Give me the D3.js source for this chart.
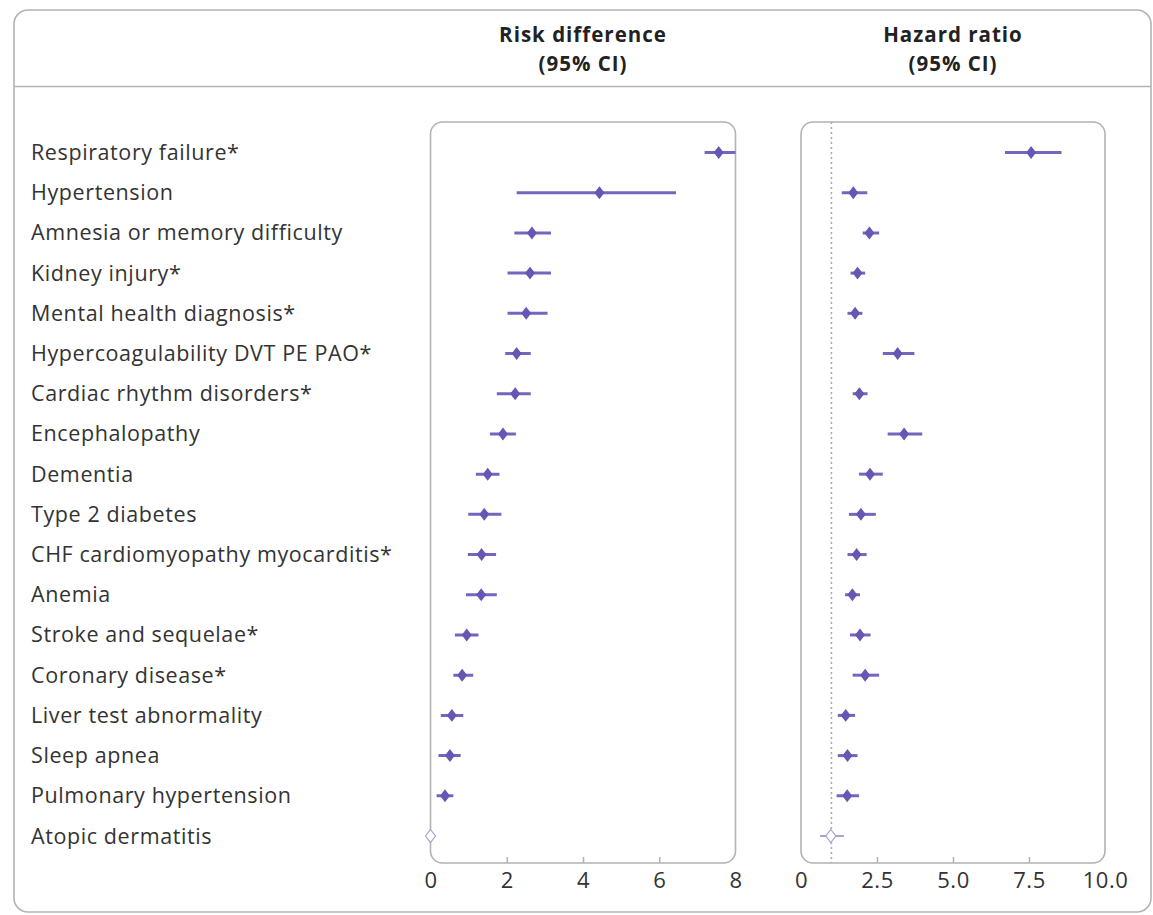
<!DOCTYPE html>
<html><head><meta charset="utf-8">
<script src="https://cdn.jsdelivr.net/npm/d3@7"></script>
<style>
body{margin:0;background:#fff;}
svg{display:block;font-family:"Open Sans",sans-serif;}
</style></head>
<body><svg id="c" width="1153" height="915"></svg>
<script>
const categories = ["Respiratory failure*","Hypertension","Amnesia or memory difficulty","Kidney injury*","Mental health diagnosis*","Hypercoagulability DVT PE PAO*","Cardiac rhythm disorders*","Encephalopathy","Dementia","Type 2 diabetes","CHF cardiomyopathy myocarditis*","Anemia","Stroke and sequelae*","Coronary disease*","Liver test abnormality","Sleep apnea","Pulmonary hypertension","Atopic dermatitis"];
const rdEst   = [7.56,4.43,2.66,2.61,2.51,2.26,2.22,1.90,1.50,1.41,1.34,1.33,0.95,0.83,0.56,0.51,0.38,0.00];
const rdLow   = [7.19,2.26,2.20,2.02,2.02,1.96,1.74,1.56,1.19,0.99,0.98,0.93,0.64,0.60,0.27,0.21,0.16,-0.02];
const rdHigh  = [8.30,6.44,3.16,3.16,3.07,2.63,2.63,2.24,1.81,1.86,1.72,1.74,1.26,1.12,0.86,0.79,0.60,0.02];
const hrEst   = [7.57,1.72,2.25,1.86,1.78,3.18,1.92,3.39,2.27,1.97,1.83,1.69,1.94,2.11,1.47,1.53,1.52,0.98];
const hrLow   = [6.71,1.34,2.03,1.63,1.53,2.69,1.70,2.85,1.91,1.58,1.53,1.45,1.61,1.70,1.21,1.21,1.17,0.63];
const hrHigh  = [8.57,2.18,2.57,2.11,2.02,3.73,2.19,3.99,2.69,2.46,2.16,1.94,2.29,2.57,1.78,1.86,1.91,1.41];
const significant = [true,true,true,true,true,true,true,true,true,true,true,true,true,true,true,true,true,false];
const rdTicks = [0,2,4,6,8];
const hrTicks = [0,2.5,5,7.5,10];
const rdTickLabels = ["0","2","4","6","8"];
const hrTickLabels = ["0","2.5","5.0","7.5","10.0"];
const headers = [["Risk difference","(95% CI)"],["Hazard ratio","(95% CI)"]];
const hrReference = 1;

const svg = d3.select("#c");
const purple = "#6756b3", purpleLine = "#7665bf", textCol = "#333", frame = "#b3b3b3";

// outer frame
svg.append("rect").attr("x",14).attr("y",10).attr("width",1137).attr("height",902)
  .attr("rx",14).attr("fill","none").attr("stroke",frame).attr("stroke-width",1.6);
svg.append("line").attr("x1",14).attr("x2",1151).attr("y1",86.5).attr("y2",86.5)
  .attr("stroke",frame).attr("stroke-width",1.6);

const y = d3.scalePoint().domain(categories).range([152.5, 836]);

// row labels
svg.append("g").selectAll("text").data(categories).join("text")
  .attr("x",31).attr("y",d=>y(d)).attr("dy","0.35em")
  .attr("fill",textCol).attr("font-size",21.5).attr("letter-spacing","0.6").text(d=>d);

const panelTop = 122, panelBot = 863;
function panel(x0, x1, domain, est, lo, hi, ticks, tickLabels, header, idx, ref){
  const x = d3.scaleLinear().domain(domain).range([x0, x1]);
  const g = svg.append("g");
  const cid = "clip"+idx;
  svg.append("clipPath").attr("id",cid).append("rect")
    .attr("x",x0).attr("y",panelTop).attr("width",x1-x0).attr("height",panelBot-panelTop).attr("rx",12);
  g.append("rect").attr("x",x0).attr("y",panelTop).attr("width",x1-x0).attr("height",panelBot-panelTop)
    .attr("rx",12).attr("fill","none").attr("stroke",frame).attr("stroke-width",1.6);
  // header
  const cx = (x0+x1)/2;
  g.append("text").attr("x",cx).attr("y",42).attr("text-anchor","middle").attr("font-weight",700)
    .attr("font-size",20.5).attr("fill","#222").attr("letter-spacing","1.0").text(header[0]);
  g.append("text").attr("x",cx).attr("y",70.5).attr("text-anchor","middle").attr("font-weight",700)
    .attr("font-size",20.5).attr("fill","#222").attr("letter-spacing","1.0").text(header[1]);
  // axis
  const ax = g.append("g").attr("transform",`translate(0,${panelBot})`)
    .call(d3.axisBottom(x).tickValues(ticks).tickSize(-6).tickPadding(9)
      .tickFormat((d,i)=>tickLabels[i]));
  ax.select(".domain").remove();
  ax.selectAll(".tick line").attr("stroke",frame).attr("stroke-width",1.6)
    .attr("display",(d,i)=> (i===0||i===ticks.length-1)?"none":null);
  ax.selectAll(".tick text").attr("font-size",22).attr("fill",textCol)
    .attr("font-family","Open Sans, sans-serif").attr("letter-spacing","0.5");
  const pg = g.append("g").attr("clip-path",`url(#${cid})`);
  if(ref!==null){
    pg.append("line").attr("x1",x(ref)).attr("x2",x(ref)).attr("y1",panelTop).attr("y2",panelBot)
      .attr("stroke","#aaa").attr("stroke-width",1.6).attr("stroke-dasharray","2,3");
  }
  pg.selectAll("line.ci").data(categories).join("line").attr("class","ci")
    .attr("x1",(d,i)=>x(lo[i])).attr("x2",(d,i)=>x(hi[i]))
    .attr("y1",d=>y(d)).attr("y2",d=>y(d))
    .attr("stroke",(d,i)=>significant[i]?purpleLine:"#a99fd6").attr("stroke-width",(d,i)=>significant[i]?3:2);
  const diamond = "M0,-5.5L4.2,0L0,5.5L-4.2,0Z";
  const openDiamond = "M0,-6.5L5,0L0,6.5L-5,0Z";
  g.selectAll("path.pt").data(categories).join("path").attr("class","pt")
    .attr("d",(d,i)=>significant[i]?diamond:openDiamond)
    .attr("transform",(d,i)=>`translate(${x(est[i])},${y(d)})`)
    .attr("fill",(d,i)=>significant[i]?purple:"#fff")
    .attr("stroke",(d,i)=>significant[i]?purple:"#a99fd6").attr("stroke-width",1.2);
}
panel(430.5, 735.5, [0,8], rdEst, rdLow, rdHigh, rdTicks, rdTickLabels, headers[0], 0, null);
panel(801, 1105, [0,10], hrEst, hrLow, hrHigh, hrTicks, hrTickLabels, headers[1], 1, hrReference);
</script></body></html>
